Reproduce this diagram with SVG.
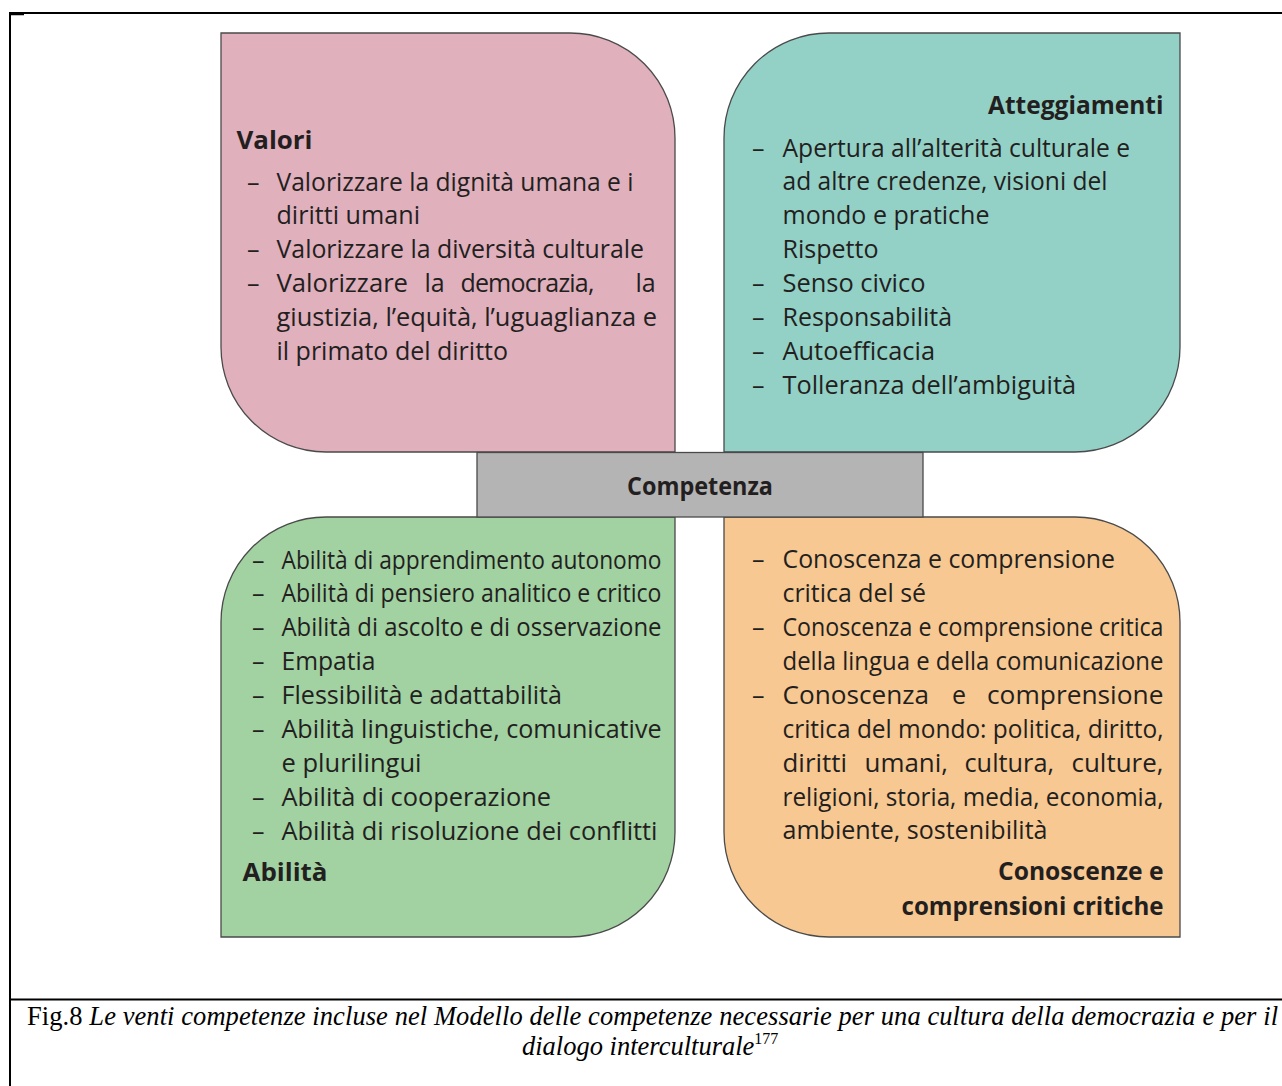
<svg xmlns="http://www.w3.org/2000/svg" width="1282" height="1086" viewBox="0 0 1282 1086">
  <style>
    .t{font-family:"Open Sans","Noto Sans",sans-serif;font-size:25px;fill:#231f20}
    .h{font-weight:700}
    .shape{stroke:#4a4a4a;stroke-width:1.3}
    .frame{stroke:#000;stroke-width:2;fill:none}
    .cap{font-family:"Liberation Serif","Times New Roman",serif;font-size:26.5px;fill:#000}
  </style>

  <!-- page frame -->
  <g id="frame">
    <line class="frame" x1="10" y1="13" x2="10" y2="1086"/>
    <line class="frame" x1="9" y1="13" x2="1282" y2="13"/>
    <line class="frame" x1="9" y1="999.5" x2="1282" y2="999.5"/>
    <line x1="10" y1="14.5" x2="24" y2="14.5" stroke="#000" stroke-width="1.5"/>
  </g>

  <!-- Valori -->
  <g id="valori">
    <path class="shape" fill="#e0b0bd" d="M221,33 H570 A105,105 0 0 1 675,138 V452 H326 A105,105 0 0 1 221,347 Z"/>
    <text class="t h" x="236.5" y="149" textLength="76" lengthAdjust="spacingAndGlyphs">Valori</text>
    <text class="t" x="247" y="191">–</text>
    <text class="t" x="276.5" y="191" textLength="357" lengthAdjust="spacingAndGlyphs">Valorizzare la dignità umana e i</text>
    <text class="t" x="276.5" y="224" textLength="143.5" lengthAdjust="spacingAndGlyphs">diritti umani</text>
    <text class="t" x="247" y="258">–</text>
    <text class="t" x="276.5" y="258" textLength="367.5" lengthAdjust="spacingAndGlyphs">Valorizzare la diversità culturale</text>
    <text class="t" x="247" y="292">–</text>
    <text class="t" x="276.5" y="292" textLength="131.5" lengthAdjust="spacingAndGlyphs">Valorizzare</text>
    <text class="t" x="424.5" y="292">la</text>
    <text class="t" x="527" y="292" text-anchor="middle" letter-spacing="-0.8">democrazia,</text>
    <text class="t" x="635.5" y="292">la</text>
    <text class="t" x="276.5" y="326" textLength="380.5" lengthAdjust="spacingAndGlyphs">giustizia, l’equità, l’uguaglianza e</text>
    <text class="t" x="276.5" y="360" textLength="231.5" lengthAdjust="spacingAndGlyphs">il primato del diritto</text>
  </g>

  <!-- Atteggiamenti -->
  <g id="atteggiamenti">
    <path class="shape" fill="#93d1c7" d="M829,33 H1180 V347 A105,105 0 0 1 1075,452 H724 V138 A105,105 0 0 1 829,33 Z"/>
    <text class="t h" x="988" y="114" textLength="175.5" lengthAdjust="spacingAndGlyphs">Atteggiamenti</text>
    <text class="t" x="752" y="157">–</text>
    <text class="t" x="782.5" y="157" textLength="347.5" lengthAdjust="spacingAndGlyphs">Apertura all’alterità culturale e</text>
    <text class="t" x="782.5" y="190" textLength="325" lengthAdjust="spacingAndGlyphs">ad altre credenze, visioni del</text>
    <text class="t" x="782.5" y="224" textLength="207" lengthAdjust="spacingAndGlyphs">mondo e pratiche</text>
    <text class="t" x="782.5" y="258" textLength="96" lengthAdjust="spacingAndGlyphs">Rispetto</text>
    <text class="t" x="752" y="292">–</text>
    <text class="t" x="782.5" y="292" textLength="143" lengthAdjust="spacingAndGlyphs">Senso civico</text>
    <text class="t" x="752" y="326">–</text>
    <text class="t" x="782.5" y="326" textLength="169.5" lengthAdjust="spacingAndGlyphs">Responsabilità</text>
    <text class="t" x="752" y="360">–</text>
    <text class="t" x="782.5" y="360" textLength="152.5" lengthAdjust="spacingAndGlyphs">Autoefficacia</text>
    <text class="t" x="752" y="394">–</text>
    <text class="t" x="782.5" y="394" textLength="293.5" lengthAdjust="spacingAndGlyphs">Tolleranza dell’ambiguità</text>
  </g>

  <!-- Abilità -->
  <g id="abilita">
    <path class="shape" fill="#a2d1a2" d="M326,517 H675 V832 A105,105 0 0 1 570,937 H221 V622 A105,105 0 0 1 326,517 Z"/>
    <text class="t" x="252" y="568.5">–</text>
    <text class="t" x="281.5" y="568.5" textLength="380" lengthAdjust="spacingAndGlyphs">Abilità di apprendimento autonomo</text>
    <text class="t" x="252" y="602">–</text>
    <text class="t" x="281.5" y="602" textLength="380" lengthAdjust="spacingAndGlyphs">Abilità di pensiero analitico e critico</text>
    <text class="t" x="252" y="636">–</text>
    <text class="t" x="281.5" y="636" textLength="380" lengthAdjust="spacingAndGlyphs">Abilità di ascolto e di osservazione</text>
    <text class="t" x="252" y="670">–</text>
    <text class="t" x="281.5" y="670" textLength="94" lengthAdjust="spacingAndGlyphs">Empatia</text>
    <text class="t" x="252" y="704">–</text>
    <text class="t" x="281.5" y="704" textLength="280.5" lengthAdjust="spacingAndGlyphs">Flessibilità e adattabilità</text>
    <text class="t" x="252" y="738">–</text>
    <text class="t" x="281.5" y="738" textLength="380" lengthAdjust="spacingAndGlyphs">Abilità linguistiche, comunicative</text>
    <text class="t" x="281.5" y="771.5" textLength="140" lengthAdjust="spacingAndGlyphs">e plurilingui</text>
    <text class="t" x="252" y="806">–</text>
    <text class="t" x="281.5" y="806" textLength="269.5" lengthAdjust="spacingAndGlyphs">Abilità di cooperazione</text>
    <text class="t" x="252" y="839.5">–</text>
    <text class="t" x="281.5" y="839.5" textLength="376" lengthAdjust="spacingAndGlyphs">Abilità di risoluzione dei conflitti</text>
    <text class="t h" x="242.5" y="881" textLength="85" lengthAdjust="spacingAndGlyphs">Abilità</text>
  </g>

  <!-- Conoscenze e comprensioni critiche -->
  <g id="conoscenze">
    <path class="shape" fill="#f7c891" d="M724,517 H1075 A105,105 0 0 1 1180,622 V937 H829 A105,105 0 0 1 724,832 Z"/>
    <text class="t" x="752" y="568">–</text>
    <text class="t" x="782.5" y="568" textLength="332.5" lengthAdjust="spacingAndGlyphs">Conoscenza e comprensione</text>
    <text class="t" x="782.5" y="602" textLength="143.5" lengthAdjust="spacingAndGlyphs">critica del sé</text>
    <text class="t" x="752" y="636">–</text>
    <text class="t" x="782.5" y="636" textLength="381" lengthAdjust="spacingAndGlyphs">Conoscenza e comprensione critica</text>
    <text class="t" x="782.5" y="669.5" textLength="381" lengthAdjust="spacingAndGlyphs">della lingua e della comunicazione</text>
    <text class="t" x="752" y="703.5">–</text>
    <text class="t" x="782.5" y="703.5" textLength="146.5" lengthAdjust="spacingAndGlyphs">Conoscenza</text>
    <text class="t" x="952" y="703.5">e</text>
    <text class="t" x="987" y="703.5" textLength="176.5" lengthAdjust="spacingAndGlyphs">comprensione</text>
    <text class="t" x="782.5" y="738" textLength="381" lengthAdjust="spacingAndGlyphs">critica del mondo: politica, diritto,</text>
    <text class="t" x="782.5" y="772" textLength="64.5" lengthAdjust="spacingAndGlyphs">diritti</text>
    <text class="t" x="864.5" y="772" textLength="83.5" lengthAdjust="spacingAndGlyphs">umani,</text>
    <text class="t" x="964.5" y="772" textLength="89.5" lengthAdjust="spacingAndGlyphs">cultura,</text>
    <text class="t" x="1071.5" y="772" textLength="92" lengthAdjust="spacingAndGlyphs">culture,</text>
    <text class="t" x="782.5" y="805.5" textLength="381" lengthAdjust="spacingAndGlyphs">religioni, storia, media, economia,</text>
    <text class="t" x="782.5" y="839" textLength="265" lengthAdjust="spacingAndGlyphs">ambiente, sostenibilità</text>
    <text class="t h" x="998" y="879.5" textLength="165.5" lengthAdjust="spacingAndGlyphs">Conoscenze e</text>
    <text class="t h" x="901.5" y="914.5" textLength="262" lengthAdjust="spacingAndGlyphs">comprensioni critiche</text>
  </g>

  <!-- central bar -->
  <g id="competenza">
    <rect class="shape" fill="#b4b4b4" x="477" y="452.5" width="446" height="64.5"/>
    <text class="t h" x="627" y="495" textLength="146" lengthAdjust="spacingAndGlyphs">Competenza</text>
  </g>

  <!-- no connectors in this figure -->
  <g id="connectors"/>

  <!-- caption -->
  <g id="caption">
    <text class="cap" x="27" y="1025" textLength="1251" lengthAdjust="spacing">Fig.8 <tspan font-style="italic">Le venti competenze incluse nel Modello delle competenze necessarie per una cultura della democrazia e per il</tspan></text>
    <text class="cap" x="522" y="1055" font-style="italic">dialogo interculturale<tspan font-style="normal" font-size="16" dy="-11">177</tspan></text>
  </g>
</svg>
